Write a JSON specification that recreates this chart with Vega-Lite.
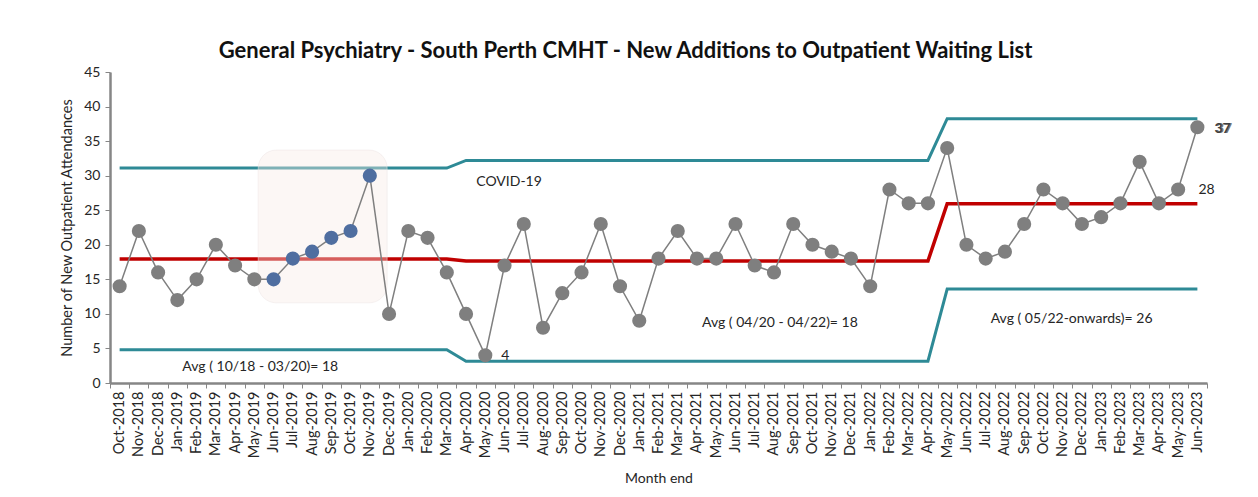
{
  "$schema": "https://vega.github.io/schema/vega-lite/v6.json",
  "width": 1097,
  "height": 311,
  "autosize": {"type": "none"},
  "padding": {"left": 110, "top": 72, "right": 51, "bottom": 114},
  "background": "white",
  "config": {
    "font": "Lato",
    "view": {"stroke": null},
    "axis": {"labelFont": "Lato", "titleFont": "Lato", "labelColor": "#262626", "titleColor": "#262626"}
  },
  "title": {
    "text": "General Psychiatry - South Perth CMHT - New Additions to Outpatient Waiting List",
    "fontSize": 22,
    "fontWeight": "bold",
    "font": "Lato",
    "color": "#111111",
    "anchor": "middle",
    "dx": -33,
    "offset": 2
  },
  "datasets": {
    "spc": [
      {"month": "Oct-2018", "value": 14, "run": "normal", "ucl": 31.1, "cl": 17.95, "lcl": 4.8},
      {"month": "Nov-2018", "value": 22, "run": "normal", "ucl": 31.1, "cl": 17.95, "lcl": 4.8},
      {"month": "Dec-2018", "value": 16, "run": "normal", "ucl": 31.1, "cl": 17.95, "lcl": 4.8},
      {"month": "Jan-2019", "value": 12, "run": "normal", "ucl": 31.1, "cl": 17.95, "lcl": 4.8},
      {"month": "Feb-2019", "value": 15, "run": "normal", "ucl": 31.1, "cl": 17.95, "lcl": 4.8},
      {"month": "Mar-2019", "value": 20, "run": "normal", "ucl": 31.1, "cl": 17.95, "lcl": 4.8},
      {"month": "Apr-2019", "value": 17, "run": "normal", "ucl": 31.1, "cl": 17.95, "lcl": 4.8},
      {"month": "May-2019", "value": 15, "run": "normal", "ucl": 31.1, "cl": 17.95, "lcl": 4.8},
      {"month": "Jun-2019", "value": 15, "run": "shift", "ucl": 31.1, "cl": 17.95, "lcl": 4.8},
      {"month": "Jul-2019", "value": 18, "run": "shift", "ucl": 31.1, "cl": 17.95, "lcl": 4.8},
      {"month": "Aug-2019", "value": 19, "run": "shift", "ucl": 31.1, "cl": 17.95, "lcl": 4.8},
      {"month": "Sep-2019", "value": 21, "run": "shift", "ucl": 31.1, "cl": 17.95, "lcl": 4.8},
      {"month": "Oct-2019", "value": 22, "run": "shift", "ucl": 31.1, "cl": 17.95, "lcl": 4.8},
      {"month": "Nov-2019", "value": 30, "run": "shift", "ucl": 31.1, "cl": 17.95, "lcl": 4.8},
      {"month": "Dec-2019", "value": 10, "run": "normal", "ucl": 31.1, "cl": 17.95, "lcl": 4.8},
      {"month": "Jan-2020", "value": 22, "run": "normal", "ucl": 31.1, "cl": 17.95, "lcl": 4.8},
      {"month": "Feb-2020", "value": 21, "run": "normal", "ucl": 31.1, "cl": 17.95, "lcl": 4.8},
      {"month": "Mar-2020", "value": 16, "run": "normal", "ucl": 31.1, "cl": 17.95, "lcl": 4.8},
      {"month": "Apr-2020", "value": 10, "run": "normal", "ucl": 32.2, "cl": 17.65, "lcl": 3.15},
      {"month": "May-2020", "value": 4, "run": "normal", "ucl": 32.2, "cl": 17.65, "lcl": 3.15},
      {"month": "Jun-2020", "value": 17, "run": "normal", "ucl": 32.2, "cl": 17.65, "lcl": 3.15},
      {"month": "Jul-2020", "value": 23, "run": "normal", "ucl": 32.2, "cl": 17.65, "lcl": 3.15},
      {"month": "Aug-2020", "value": 8, "run": "normal", "ucl": 32.2, "cl": 17.65, "lcl": 3.15},
      {"month": "Sep-2020", "value": 13, "run": "normal", "ucl": 32.2, "cl": 17.65, "lcl": 3.15},
      {"month": "Oct-2020", "value": 16, "run": "normal", "ucl": 32.2, "cl": 17.65, "lcl": 3.15},
      {"month": "Nov-2020", "value": 23, "run": "normal", "ucl": 32.2, "cl": 17.65, "lcl": 3.15},
      {"month": "Dec-2020", "value": 14, "run": "normal", "ucl": 32.2, "cl": 17.65, "lcl": 3.15},
      {"month": "Jan-2021", "value": 9, "run": "normal", "ucl": 32.2, "cl": 17.65, "lcl": 3.15},
      {"month": "Feb-2021", "value": 18, "run": "normal", "ucl": 32.2, "cl": 17.65, "lcl": 3.15},
      {"month": "Mar-2021", "value": 22, "run": "normal", "ucl": 32.2, "cl": 17.65, "lcl": 3.15},
      {"month": "Apr-2021", "value": 18, "run": "normal", "ucl": 32.2, "cl": 17.65, "lcl": 3.15},
      {"month": "May-2021", "value": 18, "run": "normal", "ucl": 32.2, "cl": 17.65, "lcl": 3.15},
      {"month": "Jun-2021", "value": 23, "run": "normal", "ucl": 32.2, "cl": 17.65, "lcl": 3.15},
      {"month": "Jul-2021", "value": 17, "run": "normal", "ucl": 32.2, "cl": 17.65, "lcl": 3.15},
      {"month": "Aug-2021", "value": 16, "run": "normal", "ucl": 32.2, "cl": 17.65, "lcl": 3.15},
      {"month": "Sep-2021", "value": 23, "run": "normal", "ucl": 32.2, "cl": 17.65, "lcl": 3.15},
      {"month": "Oct-2021", "value": 20, "run": "normal", "ucl": 32.2, "cl": 17.65, "lcl": 3.15},
      {"month": "Nov-2021", "value": 19, "run": "normal", "ucl": 32.2, "cl": 17.65, "lcl": 3.15},
      {"month": "Dec-2021", "value": 18, "run": "normal", "ucl": 32.2, "cl": 17.65, "lcl": 3.15},
      {"month": "Jan-2022", "value": 14, "run": "normal", "ucl": 32.2, "cl": 17.65, "lcl": 3.15},
      {"month": "Feb-2022", "value": 28, "run": "normal", "ucl": 32.2, "cl": 17.65, "lcl": 3.15},
      {"month": "Mar-2022", "value": 26, "run": "normal", "ucl": 32.2, "cl": 17.65, "lcl": 3.15},
      {"month": "Apr-2022", "value": 26, "run": "normal", "ucl": 32.2, "cl": 17.65, "lcl": 3.15},
      {"month": "May-2022", "value": 34, "run": "normal", "ucl": 38.25, "cl": 25.95, "lcl": 13.6},
      {"month": "Jun-2022", "value": 20, "run": "normal", "ucl": 38.25, "cl": 25.95, "lcl": 13.6},
      {"month": "Jul-2022", "value": 18, "run": "normal", "ucl": 38.25, "cl": 25.95, "lcl": 13.6},
      {"month": "Aug-2022", "value": 19, "run": "normal", "ucl": 38.25, "cl": 25.95, "lcl": 13.6},
      {"month": "Sep-2022", "value": 23, "run": "normal", "ucl": 38.25, "cl": 25.95, "lcl": 13.6},
      {"month": "Oct-2022", "value": 28, "run": "normal", "ucl": 38.25, "cl": 25.95, "lcl": 13.6},
      {"month": "Nov-2022", "value": 26, "run": "normal", "ucl": 38.25, "cl": 25.95, "lcl": 13.6},
      {"month": "Dec-2022", "value": 23, "run": "normal", "ucl": 38.25, "cl": 25.95, "lcl": 13.6},
      {"month": "Jan-2023", "value": 24, "run": "normal", "ucl": 38.25, "cl": 25.95, "lcl": 13.6},
      {"month": "Feb-2023", "value": 26, "run": "normal", "ucl": 38.25, "cl": 25.95, "lcl": 13.6},
      {"month": "Mar-2023", "value": 32, "run": "normal", "ucl": 38.25, "cl": 25.95, "lcl": 13.6},
      {"month": "Apr-2023", "value": 26, "run": "normal", "ucl": 38.25, "cl": 25.95, "lcl": 13.6},
      {"month": "May-2023", "value": 28, "run": "normal", "ucl": 38.25, "cl": 25.95, "lcl": 13.6},
      {"month": "Jun-2023", "value": 37, "run": "normal", "ucl": 38.25, "cl": 25.95, "lcl": 13.6}
    ]
  },
  "data": {"name": "spc"},
  "encoding": {
    "x": {
      "field": "month",
      "type": "ordinal",
      "sort": null,
      "scale": {"type": "band", "paddingInner": 0, "paddingOuter": 0,
        "domain": ["Oct-2018","Nov-2018","Dec-2018","Jan-2019","Feb-2019","Mar-2019","Apr-2019","May-2019","Jun-2019","Jul-2019","Aug-2019","Sep-2019","Oct-2019","Nov-2019","Dec-2019","Jan-2020","Feb-2020","Mar-2020","Apr-2020","May-2020","Jun-2020","Jul-2020","Aug-2020","Sep-2020","Oct-2020","Nov-2020","Dec-2020","Jan-2021","Feb-2021","Mar-2021","Apr-2021","May-2021","Jun-2021","Jul-2021","Aug-2021","Sep-2021","Oct-2021","Nov-2021","Dec-2021","Jan-2022","Feb-2022","Mar-2022","Apr-2022","May-2022","Jun-2022","Jul-2022","Aug-2022","Sep-2022","Oct-2022","Nov-2022","Dec-2022","Jan-2023","Feb-2023","Mar-2023","Apr-2023","May-2023","Jun-2023"]},
      "axis": {
        "title": "Month end",
        "titleFontSize": 14,
        "titleFontWeight": "normal",
        "titlePadding": 14,
        "labelAngle": -90,
        "labelFontSize": 14.5,
        "labelPadding": 3,
        "tickBand": "extent",
        "tickSize": 5,
        "tickColor": "#868686",
        "domainColor": "#868686",
        "domainWidth": 2.5,
        "grid": false
      }
    },
    "y": {
      "type": "quantitative",
      "scale": {"domain": [0, 45], "nice": false, "zero": true},
      "axis": {
        "title": "Number of New Outpatient Attendances",
        "titleFontSize": 14.5,
        "titleFontWeight": "normal",
        "titlePadding": 9,
        "values": [0, 5, 10, 15, 20, 25, 30, 35, 40, 45],
        "labelFontSize": 14,
        "labelPadding": 5,
        "tickSize": 5,
        "tickColor": "#868686",
        "domainColor": "#868686",
        "domainWidth": 2.5,
        "grid": false
      }
    }
  },
  "layer": [
    {"mark": {"type": "line", "color": "#2E8A96", "strokeWidth": 3}, "encoding": {"y": {"field": "ucl", "type": "quantitative"}}},
    {"mark": {"type": "line", "color": "#2E8A96", "strokeWidth": 3}, "encoding": {"y": {"field": "lcl", "type": "quantitative"}}},
    {"mark": {"type": "line", "color": "#C00000", "strokeWidth": 3.5}, "encoding": {"y": {"field": "cl", "type": "quantitative"}}},
    {
      "data": {"values": [{"from": "May-2019", "to": "Dec-2019", "low": 11.6, "high": 33.7}]},
      "mark": {"type": "rect", "fill": "#F8EAE7", "fillOpacity": 0.4, "cornerRadius": 18, "stroke": "#EDE6E6", "strokeWidth": 1, "strokeOpacity": 0.5},
      "encoding": {
        "x": {"field": "from", "type": "ordinal", "bandPosition": 0.7},
        "x2": {"field": "to", "bandPosition": 0.4},
        "y": {"field": "low", "type": "quantitative"},
        "y2": {"field": "high"}
      }
    },
    {"mark": {"type": "line", "color": "#7F7F7F", "strokeWidth": 1.5}, "encoding": {"y": {"field": "value", "type": "quantitative"}}},
    {
      "mark": {"type": "point", "filled": true, "opacity": 1, "size": 200},
      "encoding": {
        "y": {"field": "value", "type": "quantitative"},
        "color": {"field": "run", "type": "nominal", "scale": {"domain": ["normal", "shift"], "range": ["#7F7F7F", "#4F6EA0"]}, "legend": null}
      }
    },
    {
      "data": {"values": [{"month": "May-2020", "y": 3.9, "label": "4"}]},
      "mark": {"type": "text", "align": "left", "baseline": "middle", "fontSize": 14, "color": "#262626", "dx": 16},
      "encoding": {"y": {"field": "y", "type": "quantitative"}, "text": {"field": "label"}}
    },
    {
      "data": {"values": [{"month": "Jun-2023", "y": 27.9, "label": "28"}]},
      "mark": {"type": "text", "align": "left", "baseline": "middle", "fontSize": 14, "color": "#262626", "dx": 1},
      "encoding": {"y": {"field": "y", "type": "quantitative"}, "text": {"field": "label"}}
    },
    {
      "data": {"values": [{"month": "Jun-2023", "y": 36.8, "label": "37"}]},
      "mark": {"type": "text", "align": "left", "baseline": "middle", "fontSize": 14, "fontWeight": "bold", "color": "#404040", "dx": 17},
      "encoding": {"y": {"field": "y", "type": "quantitative"}, "text": {"field": "label"}}
    },
    {
      "data": {"values": [{"month": "Jun-2023", "y": 36.8, "label": "37"}]},
      "mark": {"type": "text", "align": "left", "baseline": "middle", "fontSize": 14, "fontWeight": "bold", "color": "#404040", "dx": 18.5, "opacity": 0.7},
      "encoding": {"y": {"field": "y", "type": "quantitative"}, "text": {"field": "label"}}
    },
    {
      "data": {"values": [
        {"month": "May-2020", "y": 29.1, "label": "COVID-19", "shift": -9},
        {"month": "Jan-2019", "y": 2.3, "label": "Avg ( 10/18 - 03/20)= 18"},
        {"month": "Apr-2021", "y": 8.7, "label": "Avg ( 04/20 - 04/22)= 18"},
        {"month": "Jul-2022", "y": 9.3, "label": "Avg ( 05/22-onwards)= 26"}
      ]},
      "transform": [{"filter": "datum.label != 'COVID-19'"}],
      "mark": {"type": "text", "align": "left", "baseline": "middle", "fontSize": 14, "color": "#262626", "dx": 5},
      "encoding": {"y": {"field": "y", "type": "quantitative"}, "text": {"field": "label"}}
    },
    {
      "data": {"values": [{"month": "May-2020", "y": 29.1, "label": "COVID-19"}]},
      "mark": {"type": "text", "align": "left", "baseline": "middle", "fontSize": 14, "color": "#262626", "dx": -9},
      "encoding": {"y": {"field": "y", "type": "quantitative"}, "text": {"field": "label"}}
    }
  ]
}
